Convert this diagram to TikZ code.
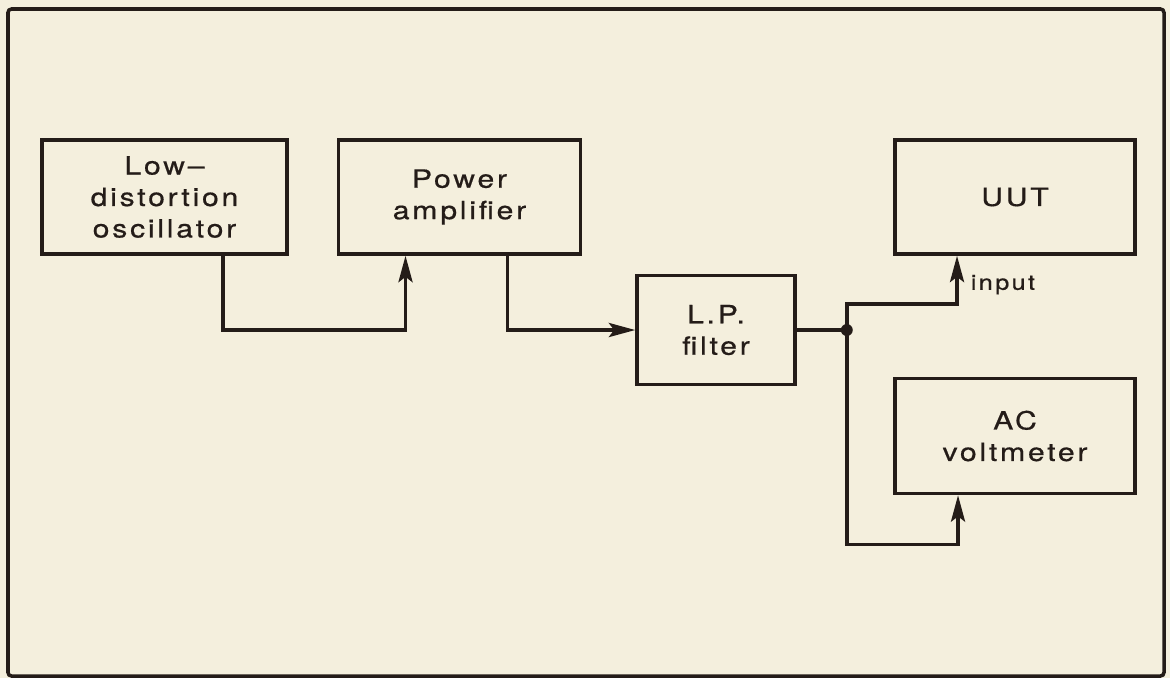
\documentclass[tikz,border=0pt]{standalone}
\usepackage{fontspec}
\usepackage{tikz}
\usetikzlibrary{positioning, arrows.meta, calc}
\usepackage{xcolor}
\newfontfamily\blockfont[FakeStretch=1.2, LetterSpace=11, FakeBold=0.6]{TeX Gyre Heros}
\definecolor{paper}{RGB}{244,239,221}
\definecolor{ink}{RGB}{36,28,24}

\begin{document}
\begin{tikzpicture}[>={Stealth[length=15pt, width=8pt, inset=3pt]},
            line width=2pt, draw=ink,
            block/.style={draw=ink, line width=2pt, minimum width=4.84cm,
            minimum height=2.28cm, align=center, inner sep=0pt,
            font=\blockfont\fontsize{14.3}{17.9}\selectfont, text=ink}]
          \fill[paper] (0,0) rectangle (23.4,-13.56);
          \draw[ink, line width=2pt, rounded corners=2pt] (0.16,-0.18) rectangle (23.28,-13.52);
          \node[block, minimum width=4.9cm] (osc) at (3.29,-3.94) {Low–\\distortion\\oscillator};
          \node[block, right=0.96cm of osc] (amp) {Power\\amplifier};
          \node[block, minimum width=3.16cm, minimum height=2.18cm,
                below right=0.36cm and 1.06cm of amp] (filt) {L.P.\\filter};
          \node[block, minimum width=4.8cm, right=6.22cm of amp] (uut) {UUT};
          \node[block, minimum width=4.8cm, minimum height=2.3cm,
                below=2.42cm of uut] (volt) {AC\\voltmeter};
          \coordinate[right=1cm of filt.east] (jn);
          \draw[ink, ->] ([xshift=1.17cm]osc.south) |- ([xshift=-1.08cm]amp.south |- filt.west)
                -- ([xshift=-1.08cm]amp.south);
          \draw[ink, ->] ([xshift=0.96cm]amp.south) |- (filt.west);
          \draw[ink] (filt.east) -- (jn);
          \fill[ink] (jn) circle (3.4pt);
          \draw[ink, ->] (jn) |- ([xshift=-1.16cm, yshift=-0.96cm]uut.south)
                -- ([xshift=-1.16cm]uut.south);
          \draw[ink, ->] (jn) |- ([xshift=-1.14cm, yshift=-0.98cm]volt.south)
                -- ([xshift=-1.14cm]volt.south);
          \node[anchor=base west, inner sep=0pt, text=ink,
                font=\blockfont\fontsize{12}{13}\selectfont]
                (inp) at ([xshift=-0.92cm, yshift=-0.68cm]uut.south) {input};
        \end{tikzpicture}
\end{document}
